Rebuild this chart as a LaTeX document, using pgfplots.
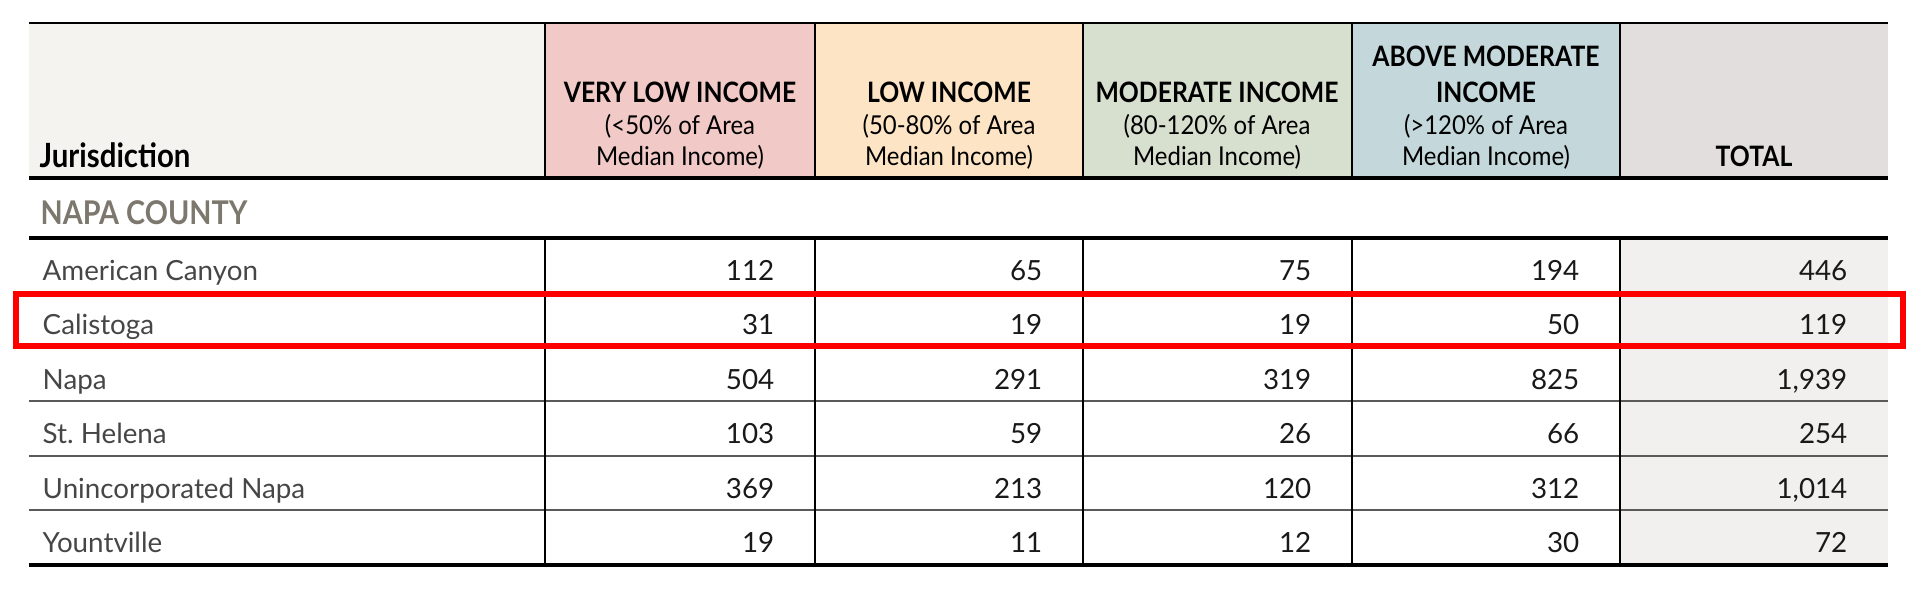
\documentclass[border=0pt]{standalone}
\usepackage{pgfplots}
\pgfplotsset{compat=1.18}
\usepackage{pgfplotstable}
\usepackage{fontspec}
\setmainfont{Lato}
\newfontfamily\hdrb[FakeStretch=0.88]{Lato}
\newfontfamily\hdrs[FakeStretch=0.92]{Lato}
\frenchspacing

\definecolor{jurhead}{HTML}{F4F3EF}
\definecolor{vlicol}{HTML}{F1C9C7}
\definecolor{lowcol}{HTML}{FCE4C4}
\definecolor{modcol}{HTML}{D7DFCF}
\definecolor{abvcol}{HTML}{C4D8DC}
\definecolor{tothead}{HTML}{E1DEDD}
\definecolor{totbody}{HTML}{F1F0EF}
\definecolor{county}{RGB}{125,120,110}
\definecolor{namegray}{RGB}{70,70,70}
\definecolor{rulegray}{RGB}{90,90,90}

\tikzset{
  hb/.style={anchor=base,inner sep=0pt,text=black,font=\hdrb\bfseries\fontsize{8}{8}\selectfont},
  hs/.style={anchor=base,inner sep=0pt,text=black,font=\hdrs\fontsize{7.4}{7.4}\selectfont},
}

% baseline (px from top), jurisdiction, units by income level
\pgfplotstableread[col sep=comma]{
y,name,vli,low,mod,above,total
280,American Canyon,112,65,75,194,446
334,Calistoga,31,19,19,50,119
389,Napa,504,291,319,825,1939
443,St. Helena,103,59,26,66,254
498,Unincorporated Napa,369,213,120,312,1014
552,Yountville,19,11,12,30,72
}\rows

\begin{document}
\begin{tikzpicture}
\begin{axis}[width=19.2cm,height=6.09cm,scale only axis,
  xmin=0,xmax=1920,ymin=0,ymax=609,y dir=reverse,
  hide axis,clip=false,
  /pgf/number format/.cd,fixed,precision=0,1000 sep={,},assume math mode=true,
  /pgfplots/.cd,
  numcol/.style={draw=none,mark=none,nodes near coords,point meta=explicit,
    every node near coord/.append style={anchor=base east,inner sep=0pt,
      text=black!90,font=\fontsize{7.9}{7.9}\selectfont}},
]
\path (axis cs:0,0) rectangle (axis cs:1920,609);

% header backgrounds
\fill[jurhead] (axis cs:29,23) rectangle (axis cs:545,178);
\fill[vlicol] (axis cs:545,23) rectangle (axis cs:815,178);
\fill[lowcol] (axis cs:815,23) rectangle (axis cs:1083,178);
\fill[modcol] (axis cs:1083,23) rectangle (axis cs:1352,178);
\fill[abvcol] (axis cs:1352,23) rectangle (axis cs:1620,178);
\fill[tothead] (axis cs:1620,23) rectangle (axis cs:1888,178);
\fill[totbody] (axis cs:1620,238) rectangle (axis cs:1888,565);

% rules
\pgfplotsinvokeforeach{292,347,401,456,510}{
  \draw[rulegray,line width=0.6pt] (axis cs:29,#1) -- (axis cs:1888,#1);
}
\pgfplotsinvokeforeach{545,815,1083,1352,1620}{
  \draw[black,line width=0.5pt] (axis cs:#1,23) -- (axis cs:#1,178);
  \draw[black,line width=0.5pt] (axis cs:#1,238) -- (axis cs:#1,565);
}
\draw[black,line width=0.6pt] (axis cs:29,23) -- (axis cs:1888,23);
\draw[black,line width=0.9pt] (axis cs:29,178) -- (axis cs:1888,178);
\draw[black,line width=0.9pt] (axis cs:29,238) -- (axis cs:1888,238);
\draw[black,line width=0.9pt] (axis cs:29,565) -- (axis cs:1888,565);

% header text
\node[anchor=base west,inner sep=0pt,font=\hdrb\bfseries\fontsize{9.5}{9.5}\selectfont] at (axis cs:39,168) {Jurisdiction};
\node[hb] at (axis cs:680,103) {VERY LOW INCOME};
\node[hs] at (axis cs:680,135) {(<50\% of Area};
\node[hs] at (axis cs:680,166) {Median Income)};
\node[hb] at (axis cs:949,103) {LOW INCOME};
\node[hs] at (axis cs:949,135) {(50-80\% of Area};
\node[hs] at (axis cs:949,166) {Median Income)};
\node[hb] at (axis cs:1217,103) {MODERATE INCOME};
\node[hs] at (axis cs:1217,135) {(80-120\% of Area};
\node[hs] at (axis cs:1217,166) {Median Income)};
\node[hb] at (axis cs:1486,67) {ABOVE MODERATE};
\node[hb] at (axis cs:1486,103) {INCOME};
\node[hs] at (axis cs:1486,135) {(>120\% of Area};
\node[hs] at (axis cs:1486,166) {Median Income)};
\node[hb] at (axis cs:1754,167) {TOTAL};
\node[anchor=base west,inner sep=0pt,text=county,font=\hdrb\bfseries\fontsize{9.3}{9.3}\selectfont] at (axis cs:40,225) {NAPA COUNTY};

% jurisdiction names
\addplot[draw=none,mark=none,nodes near coords={\pgfplotspointmeta},
  point meta=explicit symbolic,
  every node near coord/.append style={anchor=base west,inner sep=0pt,
    text=namegray,font=\fontsize{7.9}{7.9}\selectfont}]
  table[x expr=42,y=y,meta=name] {\rows};

% unit counts
\addplot[numcol] table[x expr=775,y=y,meta=vli] {\rows};
\addplot[numcol] table[x expr=1043,y=y,meta=low] {\rows};
\addplot[numcol] table[x expr=1312,y=y,meta=mod] {\rows};
\addplot[numcol] table[x expr=1580,y=y,meta=above] {\rows};
\addplot[numcol] table[x expr=1848,y=y,meta=total] {\rows};

% highlight box
\draw[red,line width=1.7pt] (axis cs:16,294) rectangle (axis cs:1903,346);
\end{axis}
\end{tikzpicture}
\end{document}
